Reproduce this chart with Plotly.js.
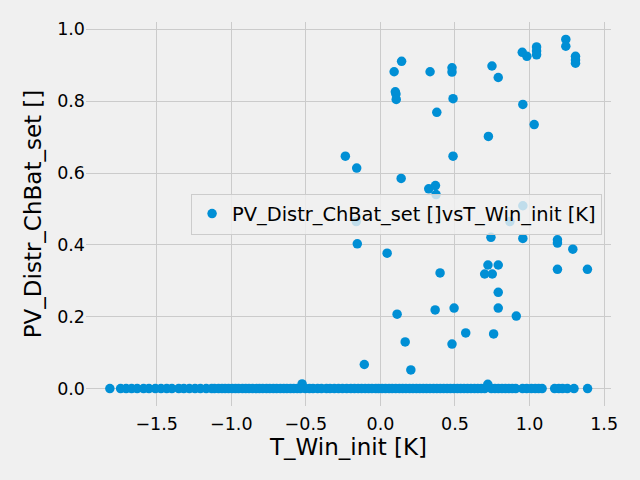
<!DOCTYPE html>
<html>
<head>
<meta charset="utf-8">
<script src="https://cdn.plot.ly/plotly-3.0.1.min.js"></script>
<style>html,body{margin:0;padding:0;background:#f0f0f0;}</style>
</head>
<body>
<div id="chart" style="width:640px;height:480px;"></div>
<script>
// T_Win_init [K] values (x)
const tWinInit = [
  -1.814, -1.742, -1.705, -1.668, -1.631, -1.588, -1.552, -1.509, -1.471, -1.433,
  -1.398, -1.352, -1.318, -1.281, -1.243, -1.207, -1.168, -1.131, -1.112, -1.085,
  -1.062, -1.041, -1.018, -0.994, -0.972, -0.951, -0.925, -0.903, -0.881, -0.857,
  -0.832, -0.811, -0.789, -0.764, -0.742, -0.718, -0.696, -0.671, -0.648, -0.627,
  -0.603, -0.581, -0.558, -0.537, -0.504, -0.476, -0.452, -0.421, -0.395, -0.362,
  -0.338, -0.309, -0.281, -0.254, -0.226, -0.198, -0.174, -0.149, -0.126, -0.102,
  -0.079, -0.057, -0.031, -0.012, 0.011, 0.034, 0.058, 0.079, 0.103, 0.127,
  0.149, 0.171, 0.196, 0.218, 0.241, 0.264, 0.287, 0.309, 0.332, 0.356,
  0.378, 0.401, 0.424, 0.447, 0.469, 0.493, 0.516, 0.538, 0.561, 0.584,
  0.607, 0.631, 0.653, 0.676, 0.699, 0.744, 0.768, 0.791, 0.815, 0.838,
  0.861, 0.884, 0.907, 0.953, 0.981, 1.012, 1.038, 1.061, 1.084, 1.168,
  1.196, 1.221, 1.253, 1.298, 1.389, -0.525, 0.720,
  0.142, 0.092, 0.333, 0.480, 0.480, 0.100, 0.104, 0.106, 0.487, 0.378,
  -0.235, -0.159, 0.487, 0.139, 0.324, 0.369, 0.373, 1.243, 1.243, 1.308,
  1.308, 1.308, 1.047, 1.047, 1.047, 0.951, 0.982, 0.748, 0.790, 0.955,
  1.031, 0.724, -0.162, -0.155, 0.045, 0.400, 0.112, 0.367, 0.494, 0.572,
  0.166, 0.480, -0.108, 0.204, 0.955, 0.868, 0.741, 0.955, 1.187, 1.187,
  1.290, 0.721, 0.790, 0.699, 0.750, 1.187, 1.388, 0.790, 0.790, 0.911,
  0.759
];
// PV_Distr_ChBat_set [] values (y)
const pvDistrChBat = [
  0, 0, 0, 0, 0, 0, 0, 0, 0, 0,
  0, 0, 0, 0, 0, 0, 0, 0, 0, 0,
  0, 0, 0, 0, 0, 0, 0, 0, 0, 0,
  0, 0, 0, 0, 0, 0, 0, 0, 0, 0,
  0, 0, 0, 0, 0, 0, 0, 0, 0, 0,
  0, 0, 0, 0, 0, 0, 0, 0, 0, 0,
  0, 0, 0, 0, 0, 0, 0, 0, 0, 0,
  0, 0, 0, 0, 0, 0, 0, 0, 0, 0,
  0, 0, 0, 0, 0, 0, 0, 0, 0, 0,
  0, 0, 0, 0, 0, 0, 0, 0, 0, 0,
  0, 0, 0, 0, 0, 0, 0, 0, 0, 0,
  0, 0, 0, 0, 0, 0.013, 0.012,
  0.911, 0.882, 0.882, 0.893, 0.881, 0.826, 0.820, 0.805, 0.807, 0.769,
  0.647, 0.614, 0.647, 0.585, 0.556, 0.565, 0.540, 0.972, 0.953, 0.925,
  0.915, 0.906, 0.951, 0.940, 0.929, 0.936, 0.925, 0.898, 0.866, 0.791,
  0.735, 0.702, 0.465, 0.403, 0.377, 0.322, 0.207, 0.219, 0.224, 0.155,
  0.130, 0.124, 0.067, 0.052, 0.509, 0.465, 0.421, 0.418, 0.414, 0.405,
  0.388, 0.344, 0.344, 0.319, 0.319, 0.332, 0.332, 0.268, 0.224, 0.202,
  0.152
];
const xTickVals = [-1.5, -1.0, -0.5, 0.0, 0.5, 1.0, 1.5];
const xTickText = ["\u22121.5", "\u22121.0", "\u22120.5", "0.0", "0.5", "1.0", "1.5"];
const yTickVals = [0.0, 0.2, 0.4, 0.6, 0.8, 1.0];
const yTickText = ["0.0", "0.2", "0.4", "0.6", "0.8", "1.0"];
const seriesName = "PV_Distr_ChBat_set []vsT_Win_init [K]";

const trace = {
  x: tWinInit,
  y: pvDistrChBat,
  type: "scatter",
  mode: "markers",
  name: seriesName,
  marker: {color: "#008fd5", size: 9.5, line: {width: 0}},
  showlegend: true
};

const layout = {
  width: 640, height: 480,
  paper_bgcolor: "#f0f0f0",
  plot_bgcolor: "#f0f0f0",
  font: {family: "DejaVu Sans", color: "#000000", size: 17.5},
  margin: {l: 86, r: 29, t: 22, b: 74, pad: 0},
  showlegend: true,
  xaxis: {
    range: [-1.974, 1.546],
    tickvals: xTickVals, ticktext: xTickText,
    showgrid: true, gridcolor: "#cbcbcb", gridwidth: 1,
    zeroline: false, showline: false,
    ticks: "outside", ticklen: 2, tickcolor: "rgba(0,0,0,0)",
    tickfont: {size: 17.5, family: "DejaVu Sans"},
    title: {text: "T_Win_init [K]", font: {size: 23, family: "DejaVu Sans"}, standoff: 3},
    automargin: false
  },
  yaxis: {
    range: [-0.0485, 1.0205],
    tickvals: yTickVals, ticktext: yTickText,
    showgrid: true, gridcolor: "#cbcbcb", gridwidth: 1,
    zeroline: false, showline: false,
    ticks: "",
    tickfont: {size: 17.5, family: "DejaVu Sans"},
    title: {text: "PV_Distr_ChBat_set []", font: {size: 23, family: "DejaVu Sans"}, standoff: 9},
    automargin: false
  },
  legend: {
    x: 0.983, xanchor: "right", y: 0.5, yanchor: "middle",
    bgcolor: "rgba(240,240,240,0.8)",
    bordercolor: "#cccccc", borderwidth: 1,
    font: {size: 19.4, family: "DejaVu Sans"}
  }
};

Plotly.newPlot("chart", [trace], layout, {displayModeBar: false, staticPlot: true});
</script>
</body>
</html>
